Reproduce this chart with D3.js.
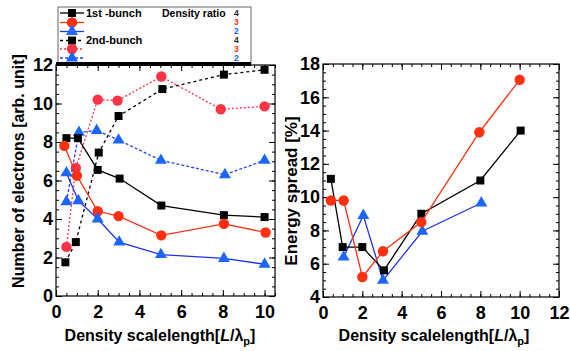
<!DOCTYPE html>
<html>
<head>
<meta charset="utf-8">
<script src="https://cdn.jsdelivr.net/npm/d3@7"></script>
<style>
  body { margin: 0; background: #fff; }
  svg { font-family: "Liberation Sans", Arial, sans-serif; font-weight: bold; }
</style>
</head>
<body>
<div id="chart"></div>
<script>
// ---- data ----
// left panel: number of electrons, 1st bunch (solid) and 2nd bunch (dashed)
const blk1X = [0.5, 1.05, 2, 3.05, 5.05, 8.05, 10];
const blk1Y = [8.2, 8.2, 6.55, 6.1, 4.7, 4.2, 4.1];
const red1X = [0.4, 1, 2, 3, 5.05, 8.05, 10.05];
const red1Y = [7.8, 6.25, 4.4, 4.15, 3.15, 3.75, 3.3];
const blu1X = [0.5, 1.07, 2, 3.03, 5.03, 8.05, 10];
const blu1Y = [6.4, 4.95, 4.0, 2.8, 2.15, 1.95, 1.65];
const blk2X = [0.45, 0.95, 2.05, 3, 5.1, 8.05, 10];
const blk2Y = [1.75, 2.8, 7.45, 9.35, 10.75, 11.5, 11.75];
const red2X = [0.5, 0.95, 2, 2.95, 5.05, 7.9, 10];
const red2Y = [2.55, 6.65, 10.2, 10.15, 11.4, 9.7, 9.85];
const blu2X = [0.5, 1.1, 1.95, 3, 5.03, 8.1, 10];
const blu2Y = [4.9, 8.5, 8.6, 8.1, 7.05, 6.3, 7.05];

// right panel: energy spread
const blkEX = [0.4, 1, 2, 3.1, 5, 8, 10.05];
const blkEY = [11.1, 7.0, 7.0, 5.6, 9.0, 11.0, 14.0];
const redEX = [0.4, 1.05, 2, 3.05, 5, 7.95, 10];
const redEY = [9.8, 9.8, 5.2, 6.75, 8.5, 13.9, 17.05];
const bluEX = [1.05, 2.05, 3.05, 5.05, 8.05];
const bluEY = [6.4, 8.9, 5.0, 7.95, 9.65];

const legendRatios = ["4", "3", "2", "4", "3", "2"];

const RED = "#ff3010", BLUE = "#1a66ff", BLACK = "#000";

const svg = d3.select("#chart")
  .append("svg")
  .attr("width", 570)
  .attr("height", 351);

// scales
const xL = d3.scaleLinear().domain([0, 10.5]).range([56, 275]);
const yL = d3.scaleLinear().domain([0, 12]).range([296, 65]);
const xR = d3.scaleLinear().domain([0, 12]).range([323, 559]);
const yR = d3.scaleLinear().domain([4, 18]).range([297, 64]);

function range(a, b, s) { return d3.range(a, b + s / 2, s); }

// draw a frame with inward ticks on all sides, labels on left and bottom
function frame(x, y, xMaj, yMaj) {
  const [x0, x1] = x.range(), [y0, y1] = y.range();
  const xMin = range(x.domain()[0], x.domain()[1], 0.5);
  const yMin = range(y.domain()[0], y.domain()[1], 0.5);

  const g = svg.append("g");
  // minor + major ticks, bottom/top
  [[y0, -1], [y1, 1]].forEach(([yy, dir]) => {
    g.append("g").attr("transform", "translate(0," + yy + ")")
      .call(d3.axisBottom(x).tickValues(xMin).tickSize(3 * dir).tickFormat(""))
      .call(a => a.select(".domain").remove());
    g.append("g").attr("transform", "translate(0," + yy + ")")
      .call(d3.axisBottom(x).tickValues(xMaj).tickSize(6 * dir).tickFormat(""))
      .call(a => a.select(".domain").remove());
  });
  [[x0, 1], [x1, -1]].forEach(([xx, dir]) => {
    g.append("g").attr("transform", "translate(" + xx + ",0)")
      .call(d3.axisLeft(y).tickValues(yMin).tickSize(-3 * dir).tickFormat(""))
      .call(a => a.select(".domain").remove());
    g.append("g").attr("transform", "translate(" + xx + ",0)")
      .call(d3.axisLeft(y).tickValues(yMaj).tickSize(-6 * dir).tickFormat(""))
      .call(a => a.select(".domain").remove());
  });
  g.selectAll(".tick line").attr("stroke", "#000").attr("stroke-width", 1);

  g.append("rect")
    .attr("x", x0).attr("y", y1)
    .attr("width", x1 - x0).attr("height", y0 - y1)
    .attr("fill", "none").attr("stroke", "#000").attr("stroke-width", 1.2);

  // labels
  const lx = svg.append("g").attr("transform", "translate(0," + y0 + ")")
    .call(d3.axisBottom(x).tickValues(xMaj).tickSize(0).tickPadding(9).tickFormat(d3.format("d")));
  lx.select(".domain").remove();
  const ly = svg.append("g").attr("transform", "translate(" + x0 + ",0)")
    .call(d3.axisLeft(y).tickValues(yMaj).tickSize(0).tickPadding(3).tickFormat(d3.format("d")));
  ly.select(".domain").remove();
  svg.selectAll(".tick text")
    .attr("font-family", "'Liberation Sans', Arial, sans-serif")
    .attr("font-weight", "bold")
    .attr("font-size", 18)
    .attr("fill", "#000");
}

frame(xL, yL, range(0, 10, 2), range(0, 12, 2));
frame(xR, yR, range(0, 12, 2), range(4, 18, 2));

// series drawing
function series(x, y, xs, ys, color, shape, dash) {
  const pts = xs.map((d, i) => [d, ys[i]]);
  const line = d3.line().x(d => x(d[0])).y(d => y(d[1]));
  svg.append("path")
    .datum(pts)
    .attr("d", line)
    .attr("fill", "none")
    .attr("stroke", color)
    .attr("stroke-width", 1.3)
    .attr("stroke-dasharray", dash || null);
  svg.append("g").selectAll("path")
    .data(pts)
    .join("path")
    .attr("transform", d => "translate(" + x(d[0]) + "," + y(d[1]) + ")")
    .attr("d", marker(shape))
    .attr("fill", shape === "triangle" ? BLUE : color);
}

function marker(shape) {
  if (shape === "square") return d3.symbol(d3.symbolSquare, 64)();
  if (shape === "circle") return d3.symbol(d3.symbolCircle, 85)();
  return d3.symbol(d3.symbolTriangle, 62)();
}

// left panel
series(xL, yL, blk2X, blk2Y, BLACK, "square", "3,3");
series(xL, yL, red2X, red2Y, "#ff3344", "circle", "2,2");
series(xL, yL, blu2X, blu2Y, "#2244ff", "triangle", "3,2");
series(xL, yL, blk1X, blk1Y, BLACK, "square");
series(xL, yL, red1X, red1Y, RED, "circle");
series(xL, yL, blu1X, blu1Y, "#2233ee", "triangle");

// right panel
series(xR, yR, bluEX, bluEY, "#2233ee", "triangle");
series(xR, yR, blkEX, blkEY, BLACK, "square");
series(xR, yR, redEX, redEY, RED, "circle");

// legend
const leg = svg.append("g");
leg.append("rect")
  .attr("x", 58).attr("y", 7).attr("width", 193).attr("height", 58)
  .attr("fill", "#fff").attr("stroke", "#666").attr("stroke-width", 1);
leg.append("line")
  .attr("x1", 56).attr("x2", 251).attr("y1", 64).attr("y2", 64)
  .attr("stroke", "#000").attr("stroke-width", 4);

const legRows = [
  {y: 13, color: BLACK, shape: "square", dash: null},
  {y: 22.5, color: RED, shape: "circle", dash: null},
  {y: 31.5, color: "#2233ee", shape: "triangle", dash: null},
  {y: 40.5, color: BLACK, shape: "square", dash: "3,3"},
  {y: 49, color: "#ff3344", shape: "circle", dash: "2,2"},
  {y: 58, color: "#2244ff", shape: "triangle", dash: "3,2"}
];
const numColors = ["#222", RED, BLUE, "#222", RED, BLUE];
legRows.forEach((r, i) => {
  leg.append("line")
    .attr("x1", 60).attr("x2", 84).attr("y1", r.y).attr("y2", r.y)
    .attr("stroke", r.color).attr("stroke-width", 1.3)
    .attr("stroke-dasharray", r.dash);
  leg.append("path")
    .attr("transform", "translate(72," + r.y + ")")
    .attr("d", marker(r.shape))
    .attr("fill", r.shape === "triangle" ? BLUE : r.color);
  leg.append("text")
    .attr("x", 234).attr("y", r.y).attr("dy", "0.35em")
    .attr("font-size", 8.5).attr("fill", numColors[i])
    .text(legendRatios[i]);
});
leg.append("text").attr("x", 86).attr("y", 13).attr("dy", "0.35em")
  .attr("font-size", 11).text("1st -bunch");
leg.append("text").attr("x", 86).attr("y", 40.5).attr("dy", "0.35em")
  .attr("font-size", 11).text("2nd-bunch");
leg.append("text").attr("x", 162).attr("y", 13).attr("dy", "0.35em")
  .attr("font-size", 10.5).text("Density ratio");

// axis titles
function xTitle(cx) {
  const t = svg.append("text")
    .attr("x", cx).attr("y", 341)
    .attr("text-anchor", "middle")
    .attr("font-size", 16);
  t.append("tspan").text("Density scalelength[");
  t.append("tspan").attr("font-style", "italic").text("L");
  t.append("tspan").text("/λ");
  t.append("tspan").attr("font-size", 11).attr("dy", 4).text("p");
  t.append("tspan").attr("dy", -4).text("]");
}
xTitle(160);
xTitle(434);

svg.append("text")
  .attr("transform", "translate(24,171) rotate(-90)")
  .attr("text-anchor", "middle")
  .attr("font-size", 16)
  .text("Number of electrons [arb. unit]");
svg.append("text")
  .attr("transform", "translate(297,191) rotate(-90)")
  .attr("text-anchor", "middle")
  .attr("font-size", 17)
  .text("Energy spread [%]");
</script>
</body>
</html>
